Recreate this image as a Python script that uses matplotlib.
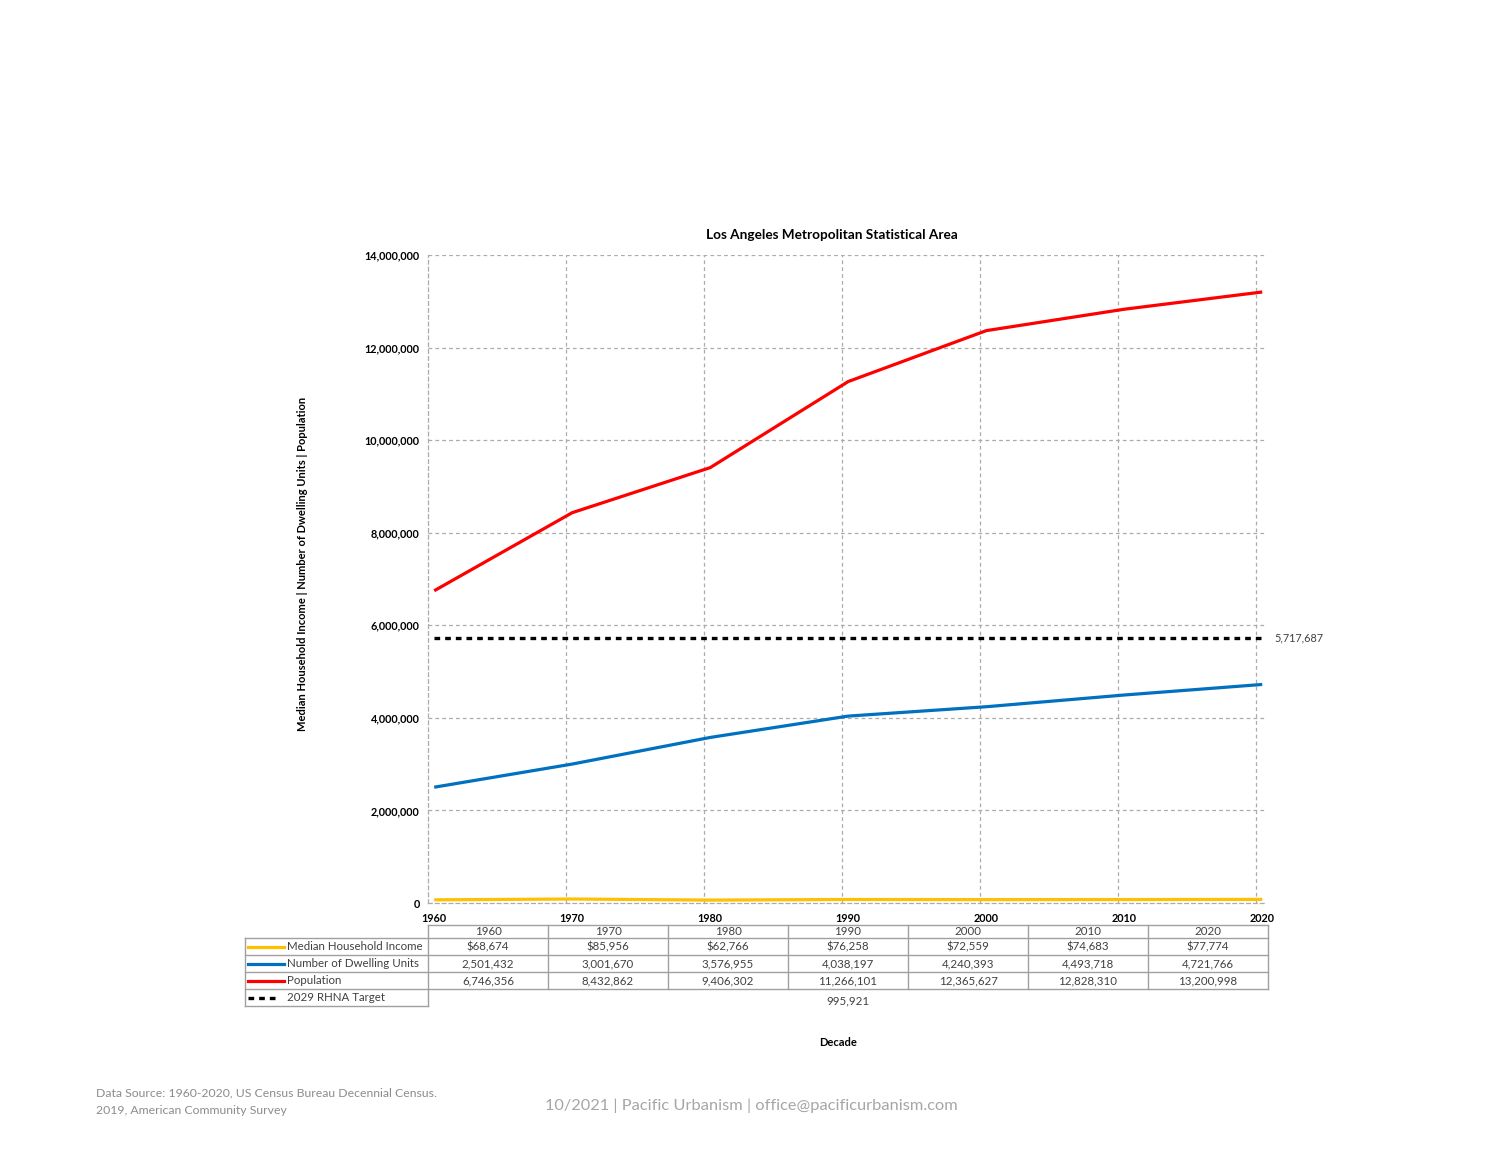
import numpy as np
import matplotlib
matplotlib.use("Agg")
from matplotlib import pyplot as plt
from matplotlib.ticker import FuncFormatter

plt.rcParams['font.family'] = ['Lato', 'DejaVu Sans']

decades = [1960, 1970, 1980, 1990, 2000, 2010, 2020]
income = [68674, 85956, 62766, 76258, 72559, 74683, 77774]
dwellings = [2501432, 3001670, 3576955, 4038197, 4240393, 4493718, 4721766]
population = [6746356, 8432862, 9406302, 11266101, 12365627, 12828310, 13200998]
rhna_target = 5717687
rhna_table_value = 995921

series_names = ["Median Household Income", "Number of Dwelling Units", "Population"]
series_colors = ["#FFC000", "#0070C0", "#FF0000"]

W, H = 1500, 1159
fig = plt.figure(figsize=(W / 100, H / 100), dpi=100)

# main plot area in pixels
left, right, top, bottom = 428, 1265, 255, 903
ax = fig.add_axes([left / W, 1 - bottom / H, (right - left) / W, (bottom - top) / H])

grid_color = "#ABABAB"
for name, vals, col in zip(series_names, [income, dwellings, population], series_colors):
    ax.plot(decades, vals, color=col, lw=2.3, solid_capstyle="butt", zorder=3)
ax.plot([decades[0], decades[-1]], [rhna_target] * 2, color="black", lw=2.4,
        linestyle=(0, (1.7, 1.5)), zorder=3)
ax.text(decades[-1] + 0.9, rhna_target, f"{rhna_target:,}", va="center", ha="left",
        fontsize=7.8, color="#404040")

offset = 0.45
ax.set_xlim(decades[0] - offset, decades[-1] + 0.2)
ax.set_ylim(0, 14000000)
ax.set_yticks(np.arange(0, 14000001, 2000000))
ax.yaxis.set_major_formatter(FuncFormatter(lambda v, p: f"{int(v):,}"))
ax.set_xticks(decades)
ax.set_xticklabels([str(d) for d in decades])
ax.tick_params(axis="both", length=0, labelsize=7.8)
for lab in ax.get_xticklabels() + ax.get_yticklabels():
    lab.set_fontweight("bold")
ax.tick_params(axis="y", pad=6)
ax.tick_params(axis="x", pad=7)

dash = (0, (3, 2.5))
for yv in np.arange(2000000, 14000001, 2000000):
    ax.axhline(yv, color=grid_color, lw=0.9, linestyle=dash, zorder=1)
for xv in [d - offset for d in decades[1:]]:
    ax.axvline(xv, color=grid_color, lw=0.9, linestyle=dash, zorder=1)
for s in ["top", "right"]:
    ax.spines[s].set_visible(False)
for s in ["left", "bottom"]:
    ax.spines[s].set_color(grid_color)
    ax.spines[s].set_linewidth(0.9)
    ax.spines[s].set_linestyle(dash)

# overlay in pixel units for title, labels and the data table
tx = fig.add_axes([0, 0, 1, 1], zorder=-1)
tx.set_xlim(0, W)
tx.set_ylim(H, 0)
tx.axis("off")

tx.text(832, 235, "Los Angeles Metropolitan Statistical Area", ha="center", va="center",
        fontsize=9.8, fontweight="bold")
tx.text(302, 564, "Median Household Income | Number of Dwelling Units | Population",
        ha="center", va="center", rotation=90, fontsize=8, fontweight="bold")

line_c = "#A0A0A0"
text_c = "#404040"
fs = 8.3
col0, colw = 428, 120
lab_left = 245
rows_y = [925, 938, 955, 972, 989, 1006]
ncol = len(decades)
col_right = col0 + colw * ncol

tx.plot([col0, col_right], [rows_y[0]] * 2, color=line_c, lw=1)
for y in rows_y[1:5]:
    tx.plot([lab_left, col_right], [y, y], color=line_c, lw=1)
tx.plot([lab_left, col0], [rows_y[5]] * 2, color=line_c, lw=1)
for i in range(ncol + 1):
    tx.plot([col0 + colw * i] * 2, [rows_y[0], rows_y[4]], color=line_c, lw=1)
tx.plot([col0, col0], [rows_y[4], rows_y[5]], color=line_c, lw=1)
tx.plot([lab_left, lab_left], [rows_y[1], rows_y[5]], color=line_c, lw=1)

for i, d in enumerate(decades):
    cx = col0 + colw * (i + 0.5)
    tx.text(cx, (rows_y[0] + rows_y[1]) / 2, str(d), ha="center", va="center",
            fontsize=fs, color=text_c)
    tx.text(cx, (rows_y[1] + rows_y[2]) / 2, f"${income[i]:,}", ha="center", va="center",
            fontsize=fs, color=text_c)
    tx.text(cx, (rows_y[2] + rows_y[3]) / 2, f"{dwellings[i]:,}", ha="center", va="center",
            fontsize=fs, color=text_c)
    tx.text(cx, (rows_y[3] + rows_y[4]) / 2, f"{population[i]:,}", ha="center", va="center",
            fontsize=fs, color=text_c)
tx.text(col0 + colw * 3.5, 1001, f"{rhna_table_value:,}", ha="center", va="center",
        fontsize=fs, color=text_c)

for r, (name, col) in enumerate(zip(series_names, series_colors)):
    yc = (rows_y[r + 1] + rows_y[r + 2]) / 2
    tx.plot([248, 284], [yc, yc], color=col, lw=2.3)
    tx.text(287, yc, name, ha="left", va="center", fontsize=fs, color=text_c)
yc = (rows_y[4] + rows_y[5]) / 2
tx.plot([248, 280], [yc, yc], color="black", lw=2.4, linestyle=(0, (1.7, 1.5)))
tx.text(287, yc, "2029 RHNA Target", ha="left", va="center", fontsize=fs, color=text_c)

tx.text(838, 1043, "Decade", ha="center", va="center", fontsize=8, fontweight="bold")

tx.text(96, 1093, "Data Source: 1960-2020, US Census Bureau Decennial Census.", ha="left",
        va="center", fontsize=8.8, color="#8C8C8C")
tx.text(96, 1110, "2019, American Community Survey", ha="left", va="center",
        fontsize=8.8, color="#8C8C8C")
tx.text(751, 1106, "10/2021 | Pacific Urbanism | office@pacificurbanism.com", ha="center",
        va="center", fontsize=11.8, color="#A6A6A6")

fig.savefig("out.png", dpi=100)
